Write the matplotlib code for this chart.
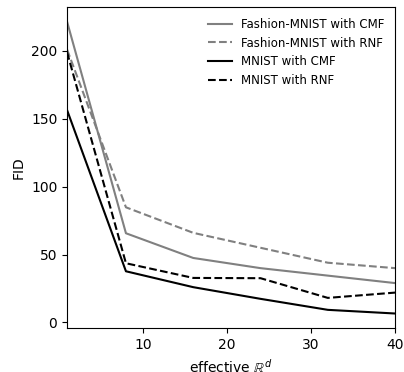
import matplotlib
matplotlib.use("Agg")
import matplotlib.pyplot as plt

dims = [1, 8, 16, 24, 32, 40]
fashion_cmf = [221.5, 65.7, 47.5, 40, 34.5, 29]
fashion_rnf = [201, 84.8, 66, 55, 44, 40]
mnist_cmf = [156.4, 37.7, 26, 17.4, 9.3, 6.6]
mnist_rnf = [199, 43.6, 32.8, 32.6, 18.1, 22]

fig = plt.figure(figsize=(4.04, 3.72), dpi=100)
ax = fig.add_axes([0.166, 0.118, 0.812, 0.863])
ax.plot(dims, fashion_cmf, color='gray', linestyle='-', label='Fashion-MNIST with CMF')
ax.plot(dims, fashion_rnf, color='gray', linestyle='--', label='Fashion-MNIST with RNF')
ax.plot(dims, mnist_cmf, color='black', linestyle='-', label='MNIST with CMF')
ax.plot(dims, mnist_rnf, color='black', linestyle='--', label='MNIST with RNF')
ax.set_xlim(1, 40)
ax.set_xlabel(r'effective $\mathbb{R}^d$')
ax.set_ylabel('FID')
ax.legend(frameon=False, fontsize=8.5, loc='upper right')
fig.savefig('out.png', dpi=100)
